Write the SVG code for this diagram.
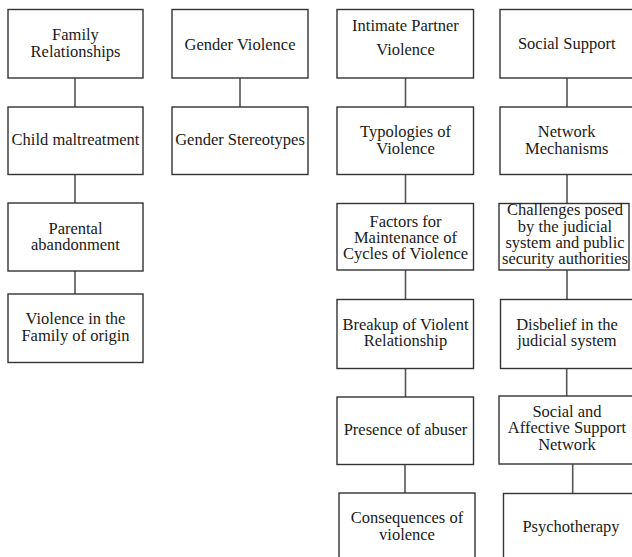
<svg xmlns="http://www.w3.org/2000/svg" width="632" height="557" viewBox="0 0 632 557">
<style>
.box{fill:#fff;stroke:#333;stroke-width:1.4}
.t{font-family:"Liberation Serif","Times New Roman",serif;font-size:16.5px;fill:#1a1a1a;text-anchor:middle}
.c line{stroke:#555;stroke-width:1.6}
</style>
<rect width="632" height="557" fill="#fff"/>
<g class="c" id="connectors">
<line x1="75" y1="78" x2="75" y2="107"/>
<line x1="75" y1="174" x2="75" y2="203"/>
<line x1="75" y1="271" x2="75" y2="294"/>
<line x1="240" y1="78" x2="240" y2="107"/>
<line x1="405.5" y1="78" x2="405.5" y2="107"/>
<line x1="405.5" y1="174" x2="405.5" y2="203"/>
<line x1="405.5" y1="270" x2="405.5" y2="299"/>
<line x1="405.5" y1="368" x2="405.5" y2="397"/>
<line x1="405" y1="464" x2="405" y2="493"/>
<line x1="567" y1="78" x2="567" y2="107"/>
<line x1="567" y1="174" x2="567" y2="203"/>
<line x1="567" y1="270" x2="567" y2="299"/>
<line x1="566.7" y1="368" x2="566.7" y2="396"/>
<line x1="572.7" y1="464" x2="572.7" y2="493"/>
</g>
<g id="family-relationships"><rect class="box" x="8" y="9.5" width="135" height="68.5"/><text class="t" x="75.5" y="40">Family</text><text class="t" x="75.5" y="57">Relationships</text></g>
<g id="child-maltreatment"><rect class="box" x="8" y="107" width="135" height="67.5"/><text class="t" x="75.5" y="145">Child  maltreatment</text></g>
<g id="parental-abandonment"><rect class="box" x="8" y="203" width="135" height="68"/><text class="t" x="75.5" y="233.5">Parental</text><text class="t" x="75.5" y="250">abandonment</text></g>
<g id="violence-family-origin"><rect class="box" x="8" y="294" width="135" height="68.5"/><text class="t" x="75.5" y="324">Violence in the</text><text class="t" x="75.5" y="341">Family  of origin</text></g>
<g id="gender-violence"><rect class="box" x="172" y="9.5" width="136" height="68.5"/><text class="t" x="240" y="49.5">Gender Violence</text></g>
<g id="gender-stereotypes"><rect class="box" x="172" y="107" width="136" height="67.5"/><text class="t" x="240" y="145">Gender Stereotypes</text></g>
<g id="intimate-partner-violence"><rect class="box" x="337" y="9.5" width="136.5" height="68.5"/><text class="t" x="405.5" y="31">Intimate  Partner</text><text class="t" x="405.5" y="55">Violence</text></g>
<g id="typologies"><rect class="box" x="337" y="107" width="136.5" height="67.5"/><text class="t" x="405.5" y="137">Typologies  of</text><text class="t" x="405.5" y="153.5">Violence</text></g>
<g id="factors"><rect class="box" x="337" y="203.5" width="136.5" height="66.5"/><text class="t" x="405.5" y="227">Factors for</text><text class="t" x="405.5" y="243">Maintenance of</text><text class="t" x="405.5" y="258.5">Cycles of Violence</text></g>
<g id="breakup"><rect class="box" x="337" y="299.5" width="136.5" height="69"/><text class="t" x="405.5" y="330">Breakup of Violent</text><text class="t" x="405.5" y="346">Relationship</text></g>
<g id="presence-abuser"><rect class="box" x="337" y="397" width="136.5" height="67.5"/><text class="t" x="405.5" y="435">Presence of abuser</text></g>
<g id="consequences"><rect class="box" x="339" y="493" width="136" height="80"/><text class="t" x="407" y="523">Consequences of</text><text class="t" x="407" y="540">violence</text></g>
<g id="social-support"><rect class="box" x="500" y="9.5" width="140" height="68.5"/><text class="t" x="566.7" y="48.5">Social Support</text></g>
<g id="network-mechanisms"><rect class="box" x="500" y="107" width="140" height="67.5"/><text class="t" x="566.7" y="137">Network</text><text class="t" x="566.7" y="153.5">Mechanisms</text></g>
<g id="challenges"><rect class="box" x="499" y="203.5" width="130" height="66.5"/><text class="t" x="565" y="215">Challenges posed</text><text class="t" x="565" y="231.5">by the judicial</text><text class="t" x="565" y="248">system and public</text><text class="t" x="565" y="263.5">security authorities</text></g>
<g id="disbelief"><rect class="box" x="500.5" y="299.5" width="140" height="69"/><text class="t" x="567" y="330">Disbelief in the</text><text class="t" x="567" y="346">judicial  system</text></g>
<g id="social-affective"><rect class="box" x="499" y="396" width="140" height="68"/><text class="t" x="567" y="416.5">Social and</text><text class="t" x="567" y="433">Affective Support</text><text class="t" x="567" y="450">Network</text></g>
<g id="psychotherapy"><rect class="box" x="503.5" y="493.5" width="140" height="80"/><text class="t" x="571" y="532">Psychotherapy</text></g>
</svg>
